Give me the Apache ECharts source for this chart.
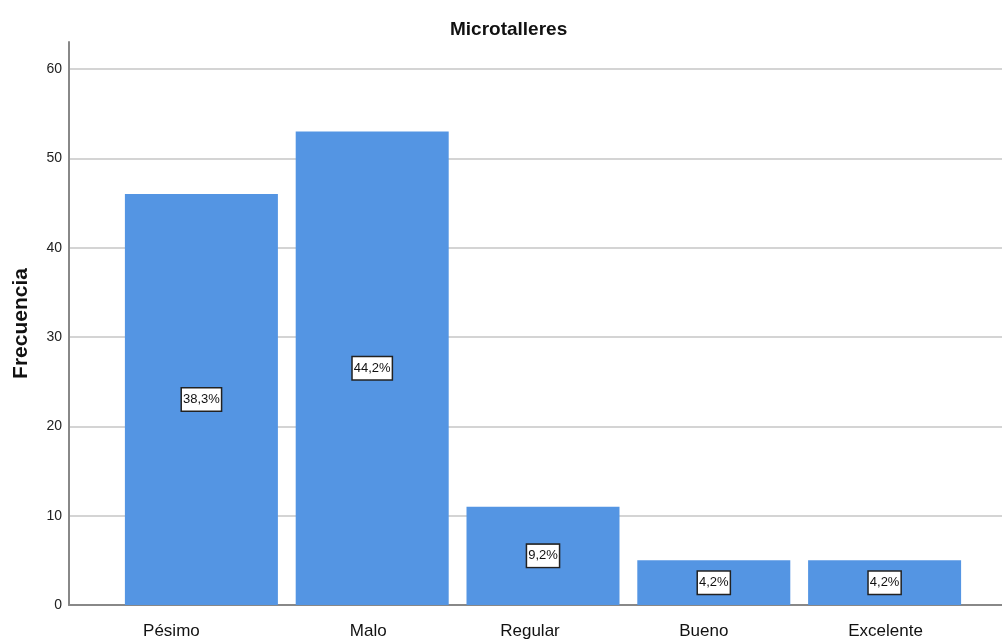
<!DOCTYPE html>
<html>
<head>
<meta charset="utf-8">
<script src="https://cdn.jsdelivr.net/npm/echarts@6/dist/echarts.min.js"></script>
<style>html,body{margin:0;padding:0;background:#fff}#c{width:1002px;height:640px}</style>
</head>
<body>
<div id="c"></div>
<script>
var categories = ['Pésimo', 'Malo', 'Regular', 'Bueno', 'Excelente'];
var frequencies = [46, 53, 11, 5, 5];
var percentLabels = ['38,3%', '44,2%', '9,2%', '4,2%', '4,2%'];
var yTicks = [0, 10, 20, 30, 40, 50, 60];

var FONT = 'Liberation Sans, Arial, sans-serif';
// horizontal nudges of category labels as placed in the original picture (px)
var labelNudge = [-30, -4, -13, -10, 1];
var categoryData = categories.map(function (c, i) {
  var s = labelNudge[i];
  return { value: c, textStyle: { padding: s < 0 ? [0, -2 * s, 0, 0] : [0, 0, 0, 2 * s] } };
});

var chart = echarts.init(document.getElementById('c'));
chart.setOption({
  animation: false,
  title: {
    text: 'Microtalleres', left: 445, top: 15,
    textStyle: { fontFamily: FONT, fontSize: 19, fontWeight: 'bold', color: '#111' }
  },
  grid: [
    { left: 69, right: 0, top: 42, bottom: 35 },
    { left: 69, right: 0, top: 69, bottom: 35 },
    { left: 116, right: 32, top: 69, bottom: 35 }
  ],
  xAxis: [
    { gridIndex: 0, type: 'value', show: false, min: 0, max: 1 },
    { gridIndex: 1, type: 'value', min: 0, max: 1,
      axisLine: { show: true, lineStyle: { color: '#888', width: 2 } },
      axisTick: { show: false }, axisLabel: { show: false }, splitLine: { show: false } },
    { gridIndex: 2, type: 'category', data: categoryData,
      axisLine: { show: false }, axisTick: { show: false },
      axisLabel: { margin: 18, fontFamily: FONT, fontSize: 17, color: '#111' } }
  ],
  yAxis: [
    { gridIndex: 0, type: 'value', min: 0, max: 63,
      axisLine: { show: true, lineStyle: { color: '#888', width: 2 } },
      axisTick: { show: false }, axisLabel: { show: false }, splitLine: { show: false },
      name: 'Frecuencia', nameLocation: 'middle', nameGap: 37,
      nameTextStyle: { fontFamily: FONT, fontSize: 21, fontWeight: 'bold', color: '#111' } },
    { gridIndex: 1, type: 'value', min: 0, max: 60, interval: 10,
      axisLine: { show: false }, axisTick: { show: false },
      axisLabel: { margin: 7, fontFamily: FONT, fontSize: 14, color: '#222',
        formatter: function (v) { return yTicks.indexOf(v) >= 0 ? String(v) : ''; } },
      splitLine: { show: true, lineStyle: { color: '#d4d4d4', width: 2 } } },
    { gridIndex: 2, type: 'value', min: 0, max: 60, show: false }
  ],
  series: [{
    type: 'bar', xAxisIndex: 2, yAxisIndex: 2,
    data: frequencies, barWidth: 153,
    itemStyle: { color: '#5495e3' },
    label: {
      show: true, position: 'inside',
      formatter: function (p) { return percentLabels[p.dataIndex]; },
      fontFamily: FONT, fontSize: 13, color: '#111',
      backgroundColor: '#fff', borderColor: '#222', borderWidth: 1.5,
      padding: [5, 1, 4, 1]
    }
  }]
});
</script>
</body>
</html>
